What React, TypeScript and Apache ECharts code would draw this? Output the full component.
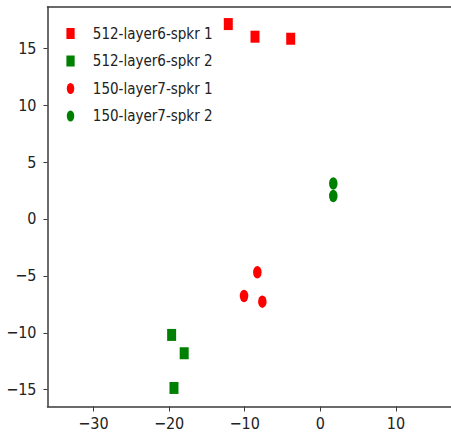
import React, { useEffect, useRef } from 'react';
import * as echarts from 'echarts';

const seriesNames = ['512-layer6-spkr 1', '512-layer6-spkr 2', '150-layer7-spkr 1', '150-layer7-spkr 2'];
const layer6Spkr1 = [[-12.17, 17.13], [-8.64, 16.02], [-3.92, 15.84]];
const layer6Spkr2 = [[-19.66, -10.19], [-18.0, -11.8], [-19.35, -14.85]];
const layer7Spkr1 = [[-8.33, -4.68], [-10.09, -6.77], [-7.67, -7.27]];
const layer7Spkr2 = [[1.71, 3.12], [1.71, 2.02]];
const xTicks = [-30, -20, -10, 0, 10];
const yTicks = [-15, -10, -5, 0, 5, 10, 15];

const FONT = '"DejaVu Sans Condensed", "DejaVu Sans", sans-serif';
const SQUARE = 'path://M0,0L9,0L9,12L0,12Z';
const ELLIPSE = 'path://M0,6.25A4.25,6.25 0 1,1 8.5,6.25A4.25,6.25 0 1,1 0,6.25Z';
const RED = '#ff0000';
const GREEN = '#008000';
const SPINE = '#3a3a3a';

const fmt = (v: number) => (v < 0 ? '\u2212' + Math.abs(v) : String(v));

export default function App() {
  const ref = useRef<HTMLDivElement>(null);
  useEffect(() => {
    if (!ref.current) return;
    const chart = echarts.init(ref.current, undefined, { renderer: 'svg' });
    const seriesData = [layer6Spkr1, layer6Spkr2, layer7Spkr1, layer7Spkr2];
    const symbols = [SQUARE, SQUARE, ELLIPSE, ELLIPSE];
    const sizes = [[9, 12], [9, 12], [8.5, 12.5], [8.5, 12.5]];
    const colors = [RED, GREEN, RED, GREEN];
    chart.setOption({
      animation: false,
      backgroundColor: '#ffffff',
      grid: { left: 47.5, top: 7, right: 0, bottom: 29.5 },
      legend: {
        orient: 'vertical',
        left: 66.4,
        top: 26,
        padding: 0,
        itemWidth: 34.6,
        itemHeight: 11,
        itemGap: 12.5,
        symbolKeepAspect: true,
        textStyle: { fontFamily: FONT, fontSize: 15, lineHeight: 15, color: '#222' },
        data: seriesNames,
      },
      xAxis: [
        {
          type: 'value',
          min: -36.07,
          max: 17.27,
          axisLine: { show: true, onZero: false, lineStyle: { color: SPINE, width: 1.5 } },
          axisTick: { show: true, length: 5, customValues: xTicks, lineStyle: { color: SPINE, width: 1 } },
          axisLabel: { customValues: xTicks, formatter: fmt, margin: 9, fontFamily: FONT, fontSize: 16, color: '#222' },
          splitLine: { show: false },
        },
        {
          type: 'value',
          position: 'top',
          min: -36.07,
          max: 17.27,
          axisLine: { show: true, onZero: false, lineStyle: { color: SPINE, width: 1.5 } },
          axisTick: { show: false },
          axisLabel: { show: false },
          splitLine: { show: false },
        },
      ],
      yAxis: {
        type: 'value',
        min: -16.48,
        max: 18.63,
        axisLine: { show: true, onZero: false, lineStyle: { color: SPINE, width: 1.5 } },
        axisTick: { show: true, length: 4, customValues: yTicks, lineStyle: { color: SPINE, width: 1 } },
        axisLabel: { customValues: yTicks, formatter: fmt, margin: 11, fontFamily: FONT, fontSize: 16, color: '#222' },
        splitLine: { show: false },
      },
      series: seriesNames.map((name, i) => ({
        name,
        type: 'scatter',
        xAxisIndex: 0,
        data: seriesData[i],
        symbol: symbols[i],
        symbolSize: sizes[i],
        itemStyle: { color: colors[i], opacity: 1 },
      })),
    });
    return () => chart.dispose();
  }, []);
  return <div ref={ref} style={{ position: 'fixed', left: 0, top: 0, width: 451, height: 436 }} />;
}
